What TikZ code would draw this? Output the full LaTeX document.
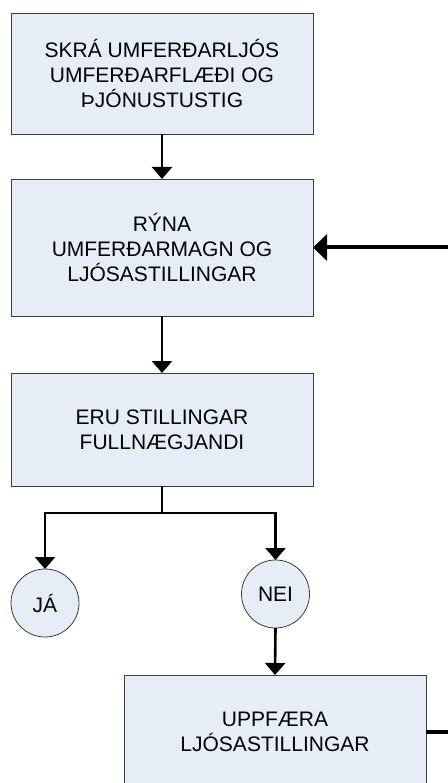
\documentclass[tikz,border=0pt]{standalone}
\usepackage{fontspec}
\setmainfont{Liberation Sans}
\usetikzlibrary{arrows.meta}
\definecolor{boxfill}{HTML}{E7EDF7}
\definecolor{boxline}{HTML}{3C3C3C}
\tikzset{
  procbox/.style={draw=boxline, fill=boxfill, line width=0.8pt, inner sep=0pt, outer sep=0pt,
    minimum width=302pt, align=center, font=\fontsize{21}{25}\selectfont},
  endcircle/.style={circle, draw=boxline, fill=boxfill, line width=0.8pt, inner sep=0pt, outer sep=0pt,
    minimum size=68pt, font=\fontsize{21}{25}\selectfont},
  conn/.style={line width=2.6pt, -{Triangle[width=20pt,length=12pt]}},
  plainconn/.style={line width=2.6pt},
  backconn/.style={line width=4pt, -{Triangle[width=26pt,length=14pt]}},
  backline/.style={line width=4pt}
}
\begin{document}
\begin{tikzpicture}[x=1pt,y=-1pt]
\useasboundingbox (0,0) rectangle (447,783);
\node[procbox, minimum height=121pt] (b1) at (162,73.5) {SKRÁ UMFERÐARLJÓS\\UMFERÐARFLÆÐI OG\\ÞJÓNUSTUSTIG};
\node[procbox, minimum height=137pt] (b2) at (162,247.5) {RÝNA\\UMFERÐARMAGN OG\\LJÓSASTILLINGAR};
\node[procbox, minimum height=113pt] (b3) at (162,429.5) {ERU STILLINGAR\\FULLNÆGJANDI};
\node[endcircle] (ja) at (45,603) {JÁ};
\node[endcircle] (nei) at (275.5,594) {NEI};
\node[procbox, minimum height=113pt] (b4) at (275,731.5) {UPPFÆRA\\LJÓSASTILLINGAR};
\coordinate (split) at (162,513);
\coordinate (outR) at (448,731.5);
\coordinate (inR) at (448,247.5);
\draw[conn] (b1.south) -- (b2.north);
\draw[conn] (b2.south) -- (b3.north);
\draw[plainconn] (b3.south) -- (split);
\draw[conn] (split) -| (ja.north);
\draw[conn] (split) -| (nei.north);
\draw[conn] (nei.south) -- (b4.north);
\draw[backline] (b4.east) -- (outR);
\draw[backconn] (inR) -- (b2.east);
\end{tikzpicture}
\end{document}
